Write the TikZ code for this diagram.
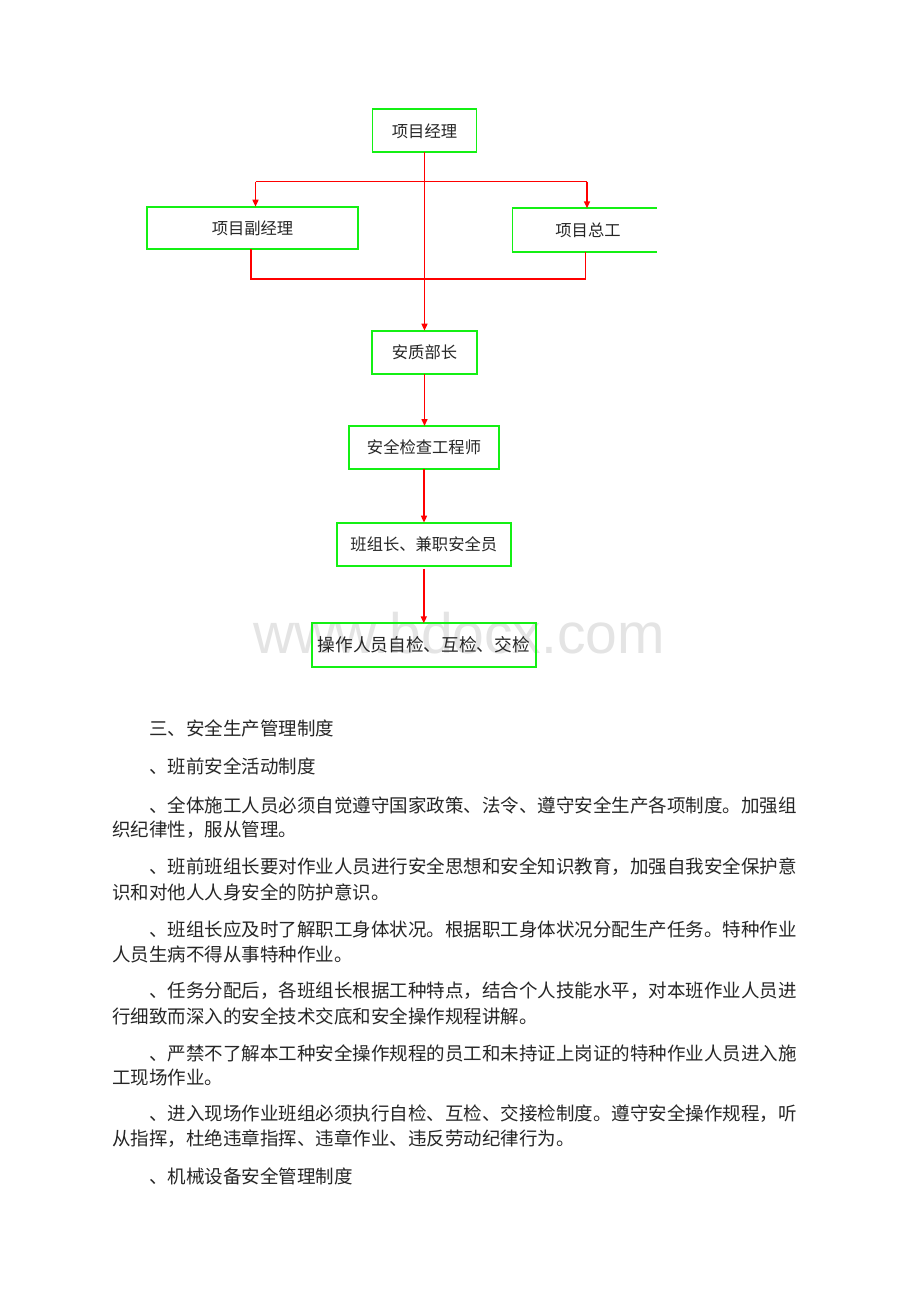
\documentclass[tikz,border=0pt]{standalone}
\usepackage{fontspec}
\usepackage{xcolor}
\usepackage{tikz}
\usetikzlibrary{arrows.meta}
\newfontfamily\cjk{Noto Sans CJK SC}
\newfontfamily\wmfont{Liberation Sans}
\definecolor{boxgreen}{RGB}{20,240,20}
\definecolor{linkred}{RGB}{255,0,0}
\definecolor{wmgray}{RGB}{228,228,228}
\tikzset{
  orgbox/.style={draw=boxgreen, line width=1.8pt, inner sep=0pt, outer sep=0pt,
    font=\cjk\fontsize{16.3}{20}\selectfont, text=black!85},
  link/.style={draw=linkred, line width=1.5pt},
  tip/.style={-{Triangle[length=7pt,width=6pt]}},
  para/.style={anchor=west, inner sep=0pt, font=\cjk\fontsize{18.5}{22}\selectfont, text=black!85}
}

\begin{document}
\begin{tikzpicture}[x=1pt,y=1pt,yscale=-1,xscale=1]
\fill[white] (0,0) rectangle (920,1302);
\path[use as bounding box] (0,0) rectangle (920,1302);
% Watermark
\node[font=\wmfont\fontsize{57}{60}\selectfont, text=wmgray, anchor=base west, inner sep=0pt] (wm) at (253,653) {www.bdocx.com};
%Shape: Rectangle
\node[orgbox, minimum width=104pt, minimum height=43pt] (pm) at (424.5,130.8) {项目经理};
\node[orgbox, minimum width=211.6pt, minimum height=42.6pt] (dpm) at (252.5,228) {项目副经理};
\node[orgbox, draw=none, minimum width=151pt, minimum height=43.4pt] (ce) at (588,230) {项目总工};
\coordinate (cut) at (656.7,230);
\draw[draw=boxgreen, line width=1.8pt] (ce.north west -| cut) -- (ce.north west) -- (ce.south west) -- (ce.south west -| cut);
\node[orgbox, minimum width=104.4pt, minimum height=43.3pt] (aq) at (424.5,352.3) {安质部长};
\node[orgbox, minimum width=150pt, minimum height=43pt] (se) at (424,447.5) {安全检查工程师};
\node[orgbox, minimum width=174.3pt, minimum height=43.3pt] (tl) at (423.8,544.3) {班组长、兼职安全员};
\node[orgbox, minimum width=224.3pt, minimum height=43.4pt, font=\cjk\fontsize{17.7}{20}\selectfont] (op) at (423.8,645) {操作人员自检、互检、交检};
%Straight Lines
\coordinate (bl) at (255.5,181.5);
\coordinate (br) at (587,181.5);
\draw[link] (bl) -- (br);
\draw[link, tip] (bl) -- (bl |- dpm.north);
\draw[link, tip] (br) -- (br |- ce.north);
\coordinate (fl) at (251,279);
\coordinate (fr) at (585.5,279);
\draw[link] (fl |- dpm.south) -- (fl) -- (fr) -- (fr |- ce.south);
\draw[link, tip] (pm.south) -- (pm.south |- aq.north);
\draw[link, tip] (aq.south) -- (aq.south |- se.north);
\draw[link, tip] (se.south) -- (se.south |- tl.north);
\draw[link, tip, shorten <=3pt] (tl.south) -- (tl.south |- op.north);
% Text Node
\node[para] (sec3) at (149,728.5) {三、安全生产管理制度};
\node[para] (act) at (149,766.5) {、班前安全活动制度};
\node[para] (r1a) at (149,805) {、全体施工人员必须自觉遵守国家政策、法令、遵守安全生产各项制度。加强组};
\node[para] (r1b) at (112,830) {织纪律性，服从管理。};
\node[para] (r2a) at (149,867) {、班前班组长要对作业人员进行安全思想和安全知识教育，加强自我安全保护意};
\node[para] (r2b) at (112,892) {识和对他人人身安全的防护意识。};
\node[para] (r3a) at (149,929.5) {、班组长应及时了解职工身体状况。根据职工身体状况分配生产任务。特种作业};
\node[para] (r3b) at (112,954.5) {人员生病不得从事特种作业。};
\node[para] (r4a) at (149,991) {、任务分配后，各班组长根据工种特点，结合个人技能水平，对本班作业人员进};
\node[para] (r4b) at (112,1016) {行细致而深入的安全技术交底和安全操作规程讲解。};
\node[para] (r5a) at (149,1053) {、严禁不了解本工种安全操作规程的员工和未持证上岗证的特种作业人员进入施};
\node[para] (r5b) at (112,1078) {工现场作业。};
\node[para] (r6a) at (149,1114) {、进入现场作业班组必须执行自检、互检、交接检制度。遵守安全操作规程，听};
\node[para] (r6b) at (112,1139) {从指挥，杜绝违章指挥、违章作业、违反劳动纪律行为。};
\node[para] (mach) at (149,1176) {、机械设备安全管理制度};
\end{tikzpicture}
\end{document}
